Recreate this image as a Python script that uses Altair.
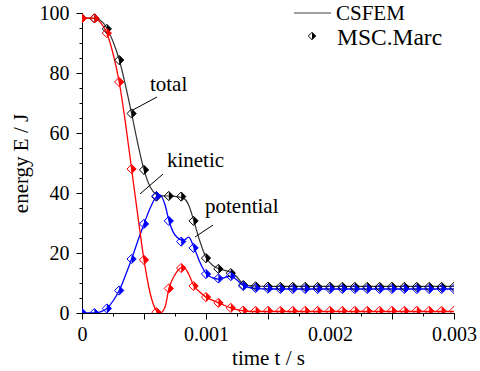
import altair as alt
import pandas as pd

# ---------------- data ----------------
# MSC.Marc markers (every 0.0001 s)
marc_t = [0.0000, 0.0001, 0.0002, 0.0003, 0.0004, 0.0005, 0.0006, 0.0007, 0.0008, 0.0009,
          0.0010, 0.0011, 0.0012, 0.0013, 0.0014, 0.0015, 0.0016, 0.0017, 0.0018, 0.0019,
          0.0020, 0.0021, 0.0022, 0.0023, 0.0024, 0.0025, 0.0026, 0.0027, 0.0028, 0.0029,
          0.0030]
marc_kinetic = [98.2, 98.2, 93.3, 77.0, 48.0, 17.7, 0.3, 8.2, 15.0, 9.0,
                5.3, 3.4, 1.7, 0.8, 0.7, 0.7, 0.7, 0.7, 0.7, 0.7,
                0.7, 0.7, 0.7, 0.7, 0.7, 0.7, 0.7, 0.7, 0.7, 0.7,
                0.7]
marc_potential = [0.0, 0.0, 1.5, 7.5, 18.0, 29.7, 39.0, 30.7, 23.8, 21.7,
                  13.0, 11.5, 12.3, 9.0, 8.3, 8.1, 8.0, 8.0, 8.0, 8.0,
                  8.0, 8.0, 8.0, 8.0, 8.0, 8.0, 8.0, 8.0, 8.0, 8.0,
                  8.0]
marc_total = [98.2, 98.2, 94.7, 84.3, 66.5, 47.7, 38.8, 39.0, 38.8, 30.7,
              18.3, 14.7, 13.3, 9.3, 8.9, 8.8, 8.7, 8.7, 8.7, 8.7,
              8.7, 8.7, 8.7, 8.7, 8.7, 8.7, 8.7, 8.7, 8.7, 8.7,
              8.7]

# CSFEM curves
csfem_t = [0.0, 0.00005, 0.0001, 0.00015, 0.0002, 0.00025, 0.0003, 0.00035, 0.0004, 0.00045,
           0.0005, 0.00055, 0.0006, 0.00063, 0.00067, 0.0007, 0.00075, 0.00082, 0.00086, 0.0009,
           0.00095, 0.001, 0.00105, 0.0011, 0.00115, 0.0012, 0.00125, 0.0013, 0.00135, 0.0014,
           0.0015, 0.002, 0.0025, 0.003]
csfem_kinetic = [98.2, 98.3, 98.2, 96.8, 93.3, 86.5, 77.0, 63.5, 48.0, 32.5,
                 17.7, 6.5, 0.8, 0.0, 2.0, 8.0, 12.8, 15.4, 13.0, 9.2,
                 7.0, 5.3, 4.3, 3.4, 2.5, 1.7, 1.1, 0.7, 0.5, 0.5,
                 0.5, 0.5, 0.5, 0.5]
csfem_potential = [0.0, 0.0, 0.0, 0.4, 1.5, 4.0, 7.5, 12.5, 18.0, 24.0,
                   29.7, 35.0, 38.8, 39.4, 36.0, 31.0, 26.0, 24.2, 25.3, 22.2,
                   17.0, 13.2, 11.8, 11.3, 11.8, 12.3, 11.0, 9.2, 8.5, 8.2,
                   8.0, 8.0, 8.0, 8.0]
csfem_total = [98.2, 98.3, 98.2, 97.5, 95.0, 90.5, 84.5, 76.0, 66.5, 56.5,
               47.7, 42.0, 39.5, 39.1, 39.0, 39.0, 38.9, 38.2, 36.0, 31.0,
               24.0, 18.5, 16.0, 14.8, 14.2, 13.6, 12.0, 9.6, 9.1, 9.0,
               8.9, 8.9, 8.9, 8.9]

# annotations (data units)
ann_labels = ["total", "kinetic", "potential"]
ann_x = [0.000548, 0.000685, 0.000992]
ann_y = [74.0, 48.7, 33.3]
ptr_x1 = [0.000605, 0.000653, 0.001056]
ptr_y1 = [72.0, 46.3, 29.3]
ptr_x2 = [0.000411, 0.000468, 0.000911]
ptr_y2 = [67.7, 39.7, 25.3]

x_major = [0.0, 0.0005, 0.001, 0.0015, 0.002, 0.0025, 0.003]
x_minor = [0.0, 0.00025, 0.0005, 0.00075, 0.001, 0.00125, 0.0015, 0.00175,
           0.002, 0.00225, 0.0025, 0.00275, 0.003]
y_major = [0, 20, 40, 60, 80, 100]
y_minor = [0, 5, 10, 15, 20, 25, 30, 35, 40, 45, 50, 55, 60, 65, 70, 75, 80, 85, 90, 95, 100]

FONT = "Liberation Serif"
RED = "#ff0000"
BLUE = "#0000ff"
BLACK = "#000000"
LINE_BLACK = "#333333"

marc = pd.DataFrame({"t": marc_t, "kin": marc_kinetic, "pot": marc_potential, "tot": marc_total})
csfem = pd.DataFrame({"t": csfem_t, "kin": csfem_kinetic, "pot": csfem_potential, "tot": csfem_total})
ann = pd.DataFrame({"label": ann_labels, "x": ann_x, "y": ann_y})
ptr = pd.DataFrame({"x1": ptr_x1, "y1": ptr_y1, "x2": ptr_x2, "y2": ptr_y2})
one = pd.DataFrame({"a": [0]})

xs = alt.Scale(domain=[0, 0.003], nice=False, zero=False)
ys = alt.Scale(domain=[0, 100], nice=False, zero=False)

def X(field, axis=None):
    if axis is None:
        return alt.X(field, type="quantitative", scale=xs, axis=None)
    return alt.X(field, type="quantitative", scale=xs, axis=axis)

def Y(field, axis=None):
    if axis is None:
        return alt.Y(field, type="quantitative", scale=ys, axis=None)
    return alt.Y(field, type="quantitative", scale=ys, axis=axis)

x_axis_main = alt.Axis(
    orient="bottom", values=x_major, tickSize=6, tickColor=BLACK, domainColor=BLACK,
    labelExpr="datum.value == 0 ? '0' : (abs(datum.value*1000 - round(datum.value*1000)) < 0.01 ? format(datum.value, '.3f') : '')",
    labelFont=FONT, labelFontSize=20, labelColor=BLACK, labelPadding=5,
    labelFlush=False, labelOverlap=False, grid=False,
    title="time t / s", titleFont=FONT, titleFontSize=21, titleFontWeight="normal",
    titleColor=BLACK, titlePadding=3)
y_axis_main = alt.Axis(
    orient="left", values=y_major, tickSize=6, tickColor=BLACK, domainColor=BLACK,
    labelFont=FONT, labelFontSize=20, labelColor=BLACK, labelPadding=7,
    labelFlush=False, labelOverlap=False, grid=False,
    title="energy E / J", titleFont=FONT, titleFontSize=21, titleFontWeight="normal",
    titleColor=BLACK, titlePadding=8)
x_axis_minor = alt.Axis(orient="bottom", values=x_minor, tickSize=3, tickColor=BLACK,
                        domain=False, labels=False, grid=False, title="")
y_axis_minor = alt.Axis(orient="left", values=y_minor, tickSize=3, tickColor=BLACK,
                        domain=False, labels=False, grid=False, title="")

axis_main = alt.Chart(marc).mark_point(opacity=0).encode(
    x=X("t", x_axis_main), y=Y("tot", y_axis_main))
axis_minor = alt.Chart(marc).mark_point(opacity=0).encode(
    x=X("t", x_axis_minor), y=Y("tot", y_axis_minor))

def line(field, color, width):
    return alt.Chart(csfem).mark_line(color=color, strokeWidth=width, interpolate="monotone",
                                      clip=True).encode(x=X("t"), y=Y(field))

HALF = "M0,-1L1,0L0,1Z"
MSIZE = 85

def markers(field, color):
    open_d = alt.Chart(marc).mark_point(shape="diamond", filled=False, stroke=color,
                                        strokeWidth=1, size=MSIZE, opacity=1, clip=True).encode(
        x=X("t"), y=Y(field))
    half = alt.Chart(marc).mark_point(shape=HALF, filled=True, fill=color, strokeWidth=0,
                                      size=MSIZE, opacity=1, clip=True).encode(
        x=X("t"), y=Y(field))
    return [open_d, half]

ann_text = alt.Chart(ann).mark_text(align="left", baseline="alphabetic", font=FONT,
                                    fontSize=21, color=BLACK).encode(
    x=X("x"), y=Y("y"), text="label:N")
ann_rule = alt.Chart(ptr).mark_rule(color=BLACK, strokeWidth=1).encode(
    x=X("x1"), y=Y("y1"), x2="x2:Q", y2="y2:Q")

# legend (pixel positions inside the plot area)
leg_line = alt.Chart(one).mark_rule(color="#808080", strokeWidth=1.5).encode(
    x=alt.value(212), x2=alt.value(249), y=alt.value(0))
leg_open = alt.Chart(one).mark_point(shape="diamond", filled=False, stroke=BLACK,
                                     strokeWidth=1, size=55, opacity=1).encode(
    x=alt.value(230), y=alt.value(23))
leg_half = alt.Chart(one).mark_point(shape=HALF, filled=True, fill=BLACK, strokeWidth=0,
                                     size=55, opacity=1).encode(
    x=alt.value(230), y=alt.value(23))
leg_t1 = alt.Chart(one).mark_text(align="left", baseline="alphabetic", font=FONT,
                                  fontSize=21, color=BLACK, text="CSFEM").encode(
    x=alt.value(254), y=alt.value(7))
leg_t2 = alt.Chart(one).mark_text(align="left", baseline="alphabetic", font=FONT,
                                  fontSize=23.5, color=BLACK, text="MSC.Marc").encode(
    x=alt.value(255), y=alt.value(32))

layers = [axis_main, axis_minor,
          line("tot", LINE_BLACK, 1.2), line("pot", BLUE, 1.3), line("kin", RED, 1.3)]
layers += markers("tot", BLACK) + markers("pot", BLUE) + markers("kin", RED)
layers += [ann_rule, ann_text, leg_line, leg_open, leg_half, leg_t1, leg_t2]

chart = alt.layer(*layers).resolve_axis(x="independent", y="independent").properties(
    width=372, height=300,
    padding={"left": 82, "top": 13, "right": 26, "bottom": 58},
    autosize="none",
    background="white",
).configure_view(stroke=None).configure_axis(
    labelFont=FONT, titleFont=FONT
)

chart.save("out.html", embed_options={"renderer": "svg", "actions": False})
